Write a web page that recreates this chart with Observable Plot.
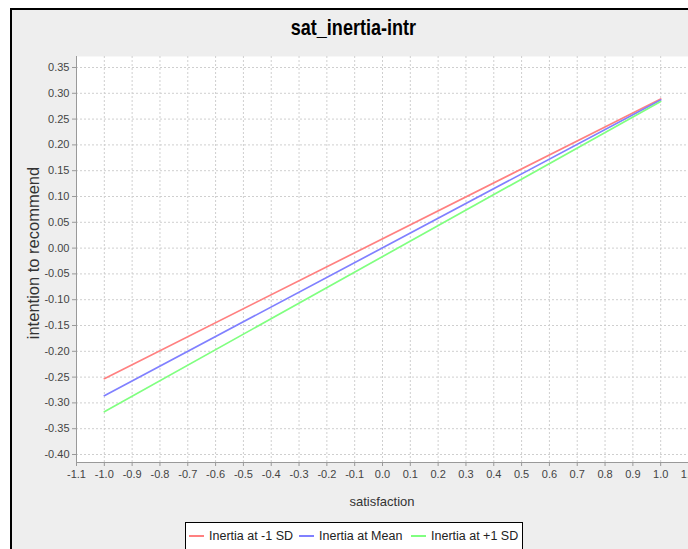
<!DOCTYPE html>
<html><head><meta charset="utf-8">
<script src="https://cdn.jsdelivr.net/npm/d3@7"></script>
<script src="https://cdn.jsdelivr.net/npm/@observablehq/plot@0.6"></script>
<style>
html,body{margin:0;padding:0;background:#fff;overflow:hidden;width:688px;height:549px;font-family:"Liberation Sans",Arial,sans-serif;}
#panel{position:absolute;left:10px;top:8px;width:700px;height:560px;background:#eeeeee;border-left:2px solid #000;border-top:2px solid #000;}
#title{position:absolute;left:0;top:14px;width:706px;text-align:center;}
#title span{display:inline-block;font-weight:bold;font-size:22px;line-height:28px;transform:scaleX(0.82);color:#000;}
#chart{position:absolute;left:0;top:0;width:700px;}
#chart svg{max-width:none !important;}
#xlabel{position:absolute;left:0;width:764px;top:494px;text-align:center;font-size:13px;color:#333;}
#ylabel{position:absolute;left:33px;top:253px;font-size:16.5px;color:#333;transform:translate(-50%,-50%) rotate(-90deg);white-space:nowrap;}
#legend{position:absolute;left:185px;top:522px;width:336px;height:40px;border:1px solid #000;background:#fff;font-size:12.5px;color:#222;}
.item{position:absolute;top:5px;white-space:nowrap;line-height:16px;}
.sw{display:inline-block;width:15px;height:2px;vertical-align:middle;margin-right:5px;position:relative;top:-1px;}
</style>
</head><body>
<div id="panel"></div>
<div id="title"><span>sat_inertia-intr</span></div>
<div id="chart"></div>
<div id="xlabel">satisfaction</div>
<div id="ylabel">intention to recommend</div>
<div id="legend"></div>
<script>
const xTicks = [-1.1,-1.0,-0.9,-0.8,-0.7,-0.6,-0.5,-0.4,-0.3,-0.2,-0.1,0.0,0.1,0.2,0.3,0.4,0.5,0.6,0.7,0.8,0.9,1.0,1.1];
const yTicks = [-0.40,-0.35,-0.30,-0.25,-0.20,-0.15,-0.10,-0.05,0.00,0.05,0.10,0.15,0.20,0.25,0.30,0.35];
const satisfaction = [-1.0, 1.0];
const inertiaLow = [-0.253, 0.289];
const inertiaMean = [-0.286, 0.287];
const inertiaHigh = [-0.317, 0.284];
const seriesNames = ["Inertia at -1 SD", "Inertia at Mean", "Inertia at +1 SD"];
const seriesColors = ["#ff8080", "#8080ff", "#80ff80"];

const xDomain = [-1.1, 1.1];
const yDomain = [-0.4155, 0.3713];

const rows = [];
[inertiaLow, inertiaMean, inertiaHigh].forEach((vals, i) => {
  satisfaction.forEach((x, j) => rows.push({series: seriesNames[i], x, y: vals[j]}));
});

const plot = Plot.plot({
  width: 700,
  height: 520,
  marginLeft: 76,
  marginRight: 12,
  marginTop: 56,
  marginBottom: 58,
  style: {fontFamily: "'Liberation Sans', Arial, sans-serif", fontSize: "11px", background: "transparent", overflow: "visible", maxWidth: "none"},
  x: {domain: xDomain},
  y: {domain: yDomain},
  color: {domain: seriesNames, range: seriesColors},
  marks: [
    Plot.frame({fill: "white", stroke: null}),
    Plot.gridX(xTicks, {stroke: "#cfcfcf", strokeOpacity: 1, strokeDasharray: "2,2"}),
    Plot.gridY(yTicks, {stroke: "#cfcfcf", strokeOpacity: 1, strokeDasharray: "2,2"}),
    Plot.ruleX([xDomain[0]], {stroke: "#999"}),
    Plot.ruleY([yDomain[0]], {stroke: "#999"}),
    Plot.axisX(xTicks, {tickFormat: d => d.toFixed(1), tickSize: 4, tickPadding: 4, label: null, stroke: "#999", color: "#444"}),
    Plot.axisY(yTicks, {tickFormat: d => d.toFixed(2), tickSize: 4, tickPadding: 3, label: null, stroke: "#999", color: "#444"}),
    Plot.line(rows, {x: "x", y: "y", z: "series", stroke: "series", strokeWidth: 1.7})
  ]
});
document.getElementById("chart").appendChild(plot);

const legend = document.getElementById("legend");
const lefts = [3, 113, 225];
seriesNames.forEach((name, i) => {
  const it = document.createElement("div");
  it.className = "item";
  it.style.left = lefts[i] + "px";
  const sw = document.createElement("span");
  sw.className = "sw";
  sw.style.background = seriesColors[i];
  it.appendChild(sw);
  it.appendChild(document.createTextNode(name));
  legend.appendChild(it);
});
</script>
</body></html>
